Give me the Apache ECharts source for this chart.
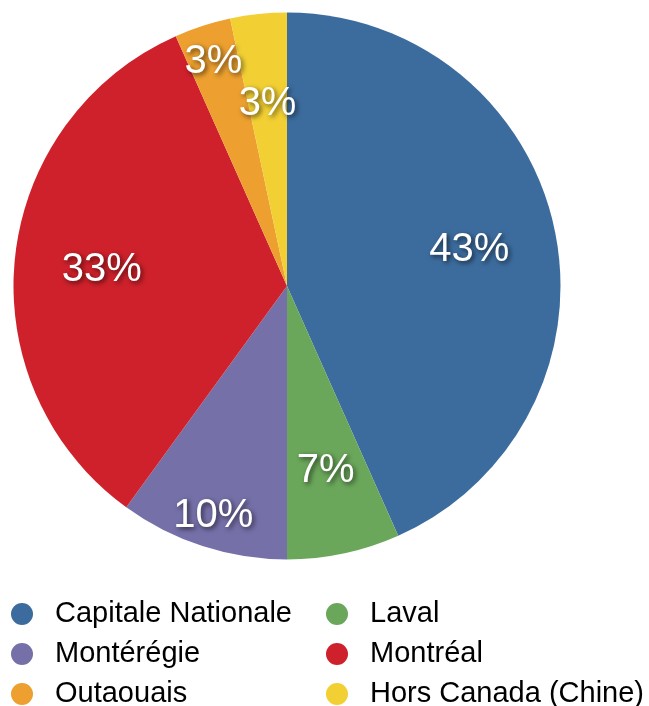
<!DOCTYPE html>
<html>
<head>
<meta charset="utf-8">
<script src="https://cdn.jsdelivr.net/npm/echarts@6/dist/echarts.min.js"></script>
<style>
html,body{margin:0;padding:0;background:#fff;}
#c{width:649px;height:706px;}
</style>
</head>
<body>
<div id="c"></div>
<script>
const categories = ['Capitale Nationale', 'Laval', 'Montérégie', 'Montréal', 'Outaouais', 'Hors Canada (Chine)'];
const counts = [13, 2, 3, 10, 1, 1];
const colors = ['#3c6c9e', '#6ba75b', '#7670a9', '#cf212b', '#eda02f', '#f2d033'];
const outerLabelSet = ['Montérégie', 'Outaouais'];

const FONT = '"Liberation Sans", Helvetica, Arial, sans-serif';
const R = 273.5;
const CX = 287, CY = 286;

const chart = echarts.init(document.getElementById('c'), null, {renderer: 'canvas'});

const baseData = categories.map((n, i) => ({name: n, value: counts[i], itemStyle: {color: colors[i]}}));

function labelData(showOuter) {
  return categories.map((n, i) => ({
    name: n, value: counts[i],
    itemStyle: {color: 'rgba(0,0,0,0)'},
    label: {show: outerLabelSet.includes(n) === showOuter}
  }));
}

const labelStyle = {
  position: 'inside',
  offset: [0, 3],
  color: '#fff',
  fontFamily: FONT,
  fontSize: 40,
  textShadowColor: 'rgba(0,0,0,0.65)',
  textShadowBlur: 5,
  textShadowOffsetX: 2,
  textShadowOffsetY: 2,
  formatter: p => Math.round(p.percent) + '%'
};

const legendCommon = {
  orient: 'vertical',
  top: 594,
  height: 130,
  padding: 0,
  itemGap: 0,
  itemWidth: 22,
  itemHeight: 22,
  icon: 'circle',
  selectedMode: false,
  textStyle: {fontFamily: FONT, fontSize: 29, color: '#000', lineHeight: 40, padding: [0, 0, 0, 17]}
};

chart.setOption({
  animation: false,
  legend: [
    Object.assign({}, legendCommon, {left: 11, data: [categories[0], categories[2], categories[4]]}),
    Object.assign({}, legendCommon, {left: 326, data: [categories[1], categories[3], categories[5]]})
  ],
  series: [
    {
      type: 'pie',
      center: [CX, CY],
      radius: [0, R],
      startAngle: 90,
      clockwise: true,
      label: {show: false},
      labelLine: {show: false},
      emphasis: {disabled: true},
      silent: true,
      itemStyle: {borderWidth: 0},
      data: baseData
    },
    {
      type: 'pie',
      center: [CX, CY],
      radius: [R * 0.34, R],
      startAngle: 90,
      clockwise: true,
      label: labelStyle,
      labelLine: {show: false},
      emphasis: {disabled: true},
      silent: true,
      legendHoverLink: false,
      itemStyle: {borderWidth: 0},
      data: labelData(false)
    },
    {
      type: 'pie',
      center: [CX, CY],
      radius: [R * 0.72, R],
      startAngle: 90,
      clockwise: true,
      label: labelStyle,
      labelLine: {show: false},
      emphasis: {disabled: true},
      silent: true,
      legendHoverLink: false,
      itemStyle: {borderWidth: 0},
      data: labelData(true)
    }
  ]
});
</script>
</body>
</html>
